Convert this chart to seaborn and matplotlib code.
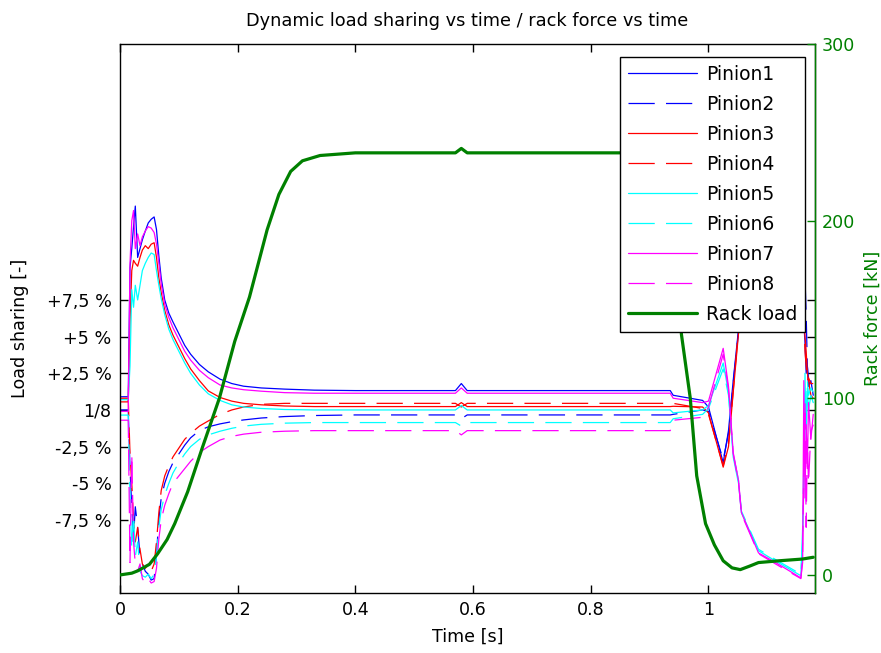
import matplotlib
matplotlib.use("Agg")
import matplotlib.pyplot as plt
import seaborn as sns
import pandas as pd

# ---------------- data ----------------
t_pin = [0.000, 0.014, 0.017, 0.020, 0.023, 0.026, 0.030, 0.034, 0.038, 0.043,
         0.048, 0.053, 0.058, 0.062, 0.066, 0.070, 0.076, 0.083, 0.090, 0.100,
         0.110, 0.120, 0.135, 0.150, 0.170, 0.190, 0.210, 0.240, 0.280, 0.330,
         0.400, 0.570, 0.580, 0.590,
         0.935, 0.940, 0.990, 1.000, 1.025, 1.034, 1.042, 1.051, 1.056, 1.085,
         1.114, 1.157, 1.160, 1.162, 1.164, 1.166, 1.168, 1.170, 1.174, 1.178]

pinion1 = [0.9, 0.9, 9.7, 11.0, 12.5, 13.9, 10.4, 11.0, 11.6, 12.2,
           12.75, 13.0, 13.16, 12.3, 10.5, 9.0, 7.5, 6.6, 6.0, 5.2,
           4.4, 3.8, 3.1, 2.6, 2.1, 1.8, 1.62, 1.5, 1.42, 1.35,
           1.32, 1.32, 1.8, 1.32,
           1.32, 1.0, 0.65, 0.2, -3.6, -1.4, 2.0, 5.5, 8.0, 12.0,
           13.0, 12.0, 10.0, 6.0, 4.6, 2.5, 3.0, 1.6, 2.0, 1.0]
pinion2 = [0.0, 0.0, -4.0, -6.6, -8.7, -6.6, -8.0, -10.0, -10.5, -11.0,
           -11.2, -11.6, -11.5, -9.8, -7.5, -6.0, -5.0, -4.2, -3.6, -3.0,
           -2.4, -1.9, -1.4, -1.15, -0.95, -0.8, -0.68, -0.55, -0.45, -0.38,
           -0.34, -0.34, -0.6, -0.34,
           -0.34, -0.3, 0.0, -0.1, -3.4, -1.6, 1.8, 5.3, 8.0, 12.0,
           13.0, 13.0, 12.5, 11.4, 9.0, 6.5, 3.0, 2.0, 1.5, 1.5]
pinion3 = [0.55, 0.55, 6.0, 9.5, 10.2, 10.0, 9.8, 10.4, 10.9, 11.2,
           11.0, 11.3, 11.4, 10.4, 9.0, 8.0, 6.8, 5.8, 5.1, 4.3,
           3.5, 2.8, 2.0, 1.3, 0.85, 0.6, 0.45, 0.35, 0.27, 0.23,
           0.23, 0.23, 0.5, 0.23,
           0.23, 0.25, 0.2, -0.2, -3.9, -2.5, 1.2, 5.2, 8.0, 12.0,
           13.0, 11.0, 9.0, 6.8, 5.0, 4.0, 2.5, 2.0, 1.0, 0.8]
pinion4 = [0.8, 0.8, -3.0, -5.0, -7.5, -9.0, -8.0, -9.5, -10.5, -10.8,
           -10.5, -11.0, -10.5, -9.0, -7.0, -5.5, -4.5, -3.8, -3.2, -2.6,
           -2.0, -1.6, -1.1, -0.75, -0.3, 0.0, 0.2, 0.38, 0.45, 0.45,
           0.45, 0.45, 0.2, 0.45,
           0.45, 0.45, 0.1, -0.3, -3.8, -2.3, 1.3, 5.5, 8.0, 12.5,
           13.0, 11.5, 9.5, 6.0, 4.0, 3.0, 2.0, 2.2, 1.8, 1.8]
pinion5 = [0.7, 0.7, 3.0, 8.2, 7.0, 8.5, 7.5, 8.5, 9.5, 10.0,
           10.4, 10.7, 10.6, 9.5, 8.5, 7.6, 6.5, 5.5, 4.8, 4.0,
           3.2, 2.5, 1.7, 1.1, 0.65, 0.35, 0.2, 0.1, 0.03, 0.0,
           0.0, 0.0, 0.3, 0.0,
           0.0, -0.2, 0.0, 0.3, 3.2, 1.2, -3.2, -5.0, -7.0, -9.6,
           -10.3, -11.3, -8.0, -5.5, 2.5, -2.0, 1.5, 0.0, 1.0, 0.5]
pinion6 = [-0.35, -0.35, -6.0, -9.5, -7.0, -10.0, -9.0, -11.0, -11.3, -11.4,
           -11.2, -11.5, -11.2, -10.0, -8.0, -6.8, -5.8, -5.0, -4.3, -3.6,
           -3.0, -2.5, -2.0, -1.7, -1.45, -1.25, -1.1, -0.98, -0.9, -0.86,
           -0.86, -0.86, -1.1, -0.86,
           -0.86, -0.6, -0.3, 0.1, 2.8, 1.0, -3.0, -4.8, -6.9, -9.5,
           -10.2, -11.2, -9.0, -3.0, 1.5, -1.0, 2.0, 1.0, 1.5, 1.2]
pinion7 = [-0.1, -0.1, 10.0, 12.9, 13.6, 11.0, 12.0, 11.2, 11.8, 12.2,
           12.5, 12.4, 12.1, 11.3, 10.0, 8.6, 7.2, 6.3, 5.6, 4.8,
           4.0, 3.4, 2.7, 2.2, 1.7, 1.5, 1.38, 1.28, 1.18, 1.14,
           1.14, 1.14, 1.5, 1.14,
           1.14, 0.8, 0.5, 0.6, 4.2, 1.6, -2.9, -4.8, -7.0, -9.75,
           -10.4, -11.45, -10.4, 2.0, -6.0, -1.0, -4.0, 0.5, -2.0, -0.3]
pinion8 = [-0.7, -0.7, -10.4, -3.0, -9.0, -10.5, -11.0, -10.5, -11.5, -11.8,
           -11.5, -11.8, -11.7, -10.8, -8.8, -7.5, -6.5, -5.7, -5.0, -4.5,
           -4.0, -3.5, -2.9, -2.5, -2.05, -1.8, -1.65, -1.52, -1.45, -1.41,
           -1.41, -1.41, -1.7, -1.41,
           -1.41, -0.7, -0.5, 0.2, 3.8, 1.4, -3.0, -4.9, -7.1, -9.8,
           -10.5, -11.5, -10.0, -4.0, 0.5, -8.0, -2.0, -5.0, -1.5, -1.0]

rack_t = [0, 0.02, 0.03, 0.05, 0.064, 0.08, 0.093, 0.115, 0.14, 0.169,
          0.195, 0.22, 0.25, 0.27, 0.29, 0.31, 0.34, 0.40, 0.57, 0.58,
          0.59, 0.937, 0.945, 0.954, 0.969, 0.98, 0.995, 1.01, 1.025, 1.04,
          1.054, 1.07, 1.085, 1.12, 1.16, 1.178]
rack_load = [0, 1, 2.3, 6, 12, 20, 29, 47, 72, 100,
             132, 157, 195, 215, 228, 234, 237, 238.5, 238.5, 241,
             238.5, 238.5, 200, 136, 100, 56, 29, 17, 8, 4,
             3, 5, 7, 8, 9, 10]

pinion_names = ["Pinion1", "Pinion2", "Pinion3", "Pinion4",
                "Pinion5", "Pinion6", "Pinion7", "Pinion8"]
pinion_values = [pinion1, pinion2, pinion3, pinion4,
                 pinion5, pinion6, pinion7, pinion8]
pinion_colors = ["#0000ff", "#0000ff", "#ff0000", "#ff0000",
                 "#00ffff", "#00ffff", "#ff00ff", "#ff00ff"]
pinion_dashed = [False, True, False, True, False, True, False, True]

share_ticks = [7.5, 5, 2.5, 0, -2.5, -5, -7.5]
share_labels = ["+7,5 %", "+5 %", "+2,5 %", "1/8", "-2,5 %", "-5 %", "-7,5 %"]
time_ticks = [0, 0.2, 0.4, 0.6, 0.8, 1]
time_labels = ["0", "0.2", "0.4", "0.6", "0.8", "1"]
force_ticks = [0, 100, 200, 300]

GREEN = "#008000"

# ---------------- style ----------------
sns.set_theme(style="ticks", rc={"axes.edgecolor": "black", "axes.linewidth": 1.0,
                                 "xtick.color": "black", "ytick.color": "black",
                                 "text.color": "black", "axes.labelcolor": "black"})
plt.rcParams["font.family"] = ["DejaVu Sans"]

fig = plt.figure(figsize=(8.81, 6.53), dpi=100)
W, H = 881, 653
ax = fig.add_axes([120 / W, 1 - 593 / H, 695 / W, 549 / H])
ax2 = ax.twinx()

handles = []
for name, vals, col, dashed in zip(pinion_names, pinion_values, pinion_colors, pinion_dashed):
    df = pd.DataFrame({"t": t_pin, "v": vals})
    ls = (0, (21, 9)) if dashed else "-"
    sns.lineplot(data=df, x="t", y="v", ax=ax, color=col, linewidth=0.9,
                 linestyle=ls, estimator=None, errorbar=None, sort=False, legend=False)
    handles.append(ax.lines[-1])

dfr = pd.DataFrame({"t": rack_t, "F": rack_load})
sns.lineplot(data=dfr, x="t", y="F", ax=ax2, color=GREEN, linewidth=2.3,
             estimator=None, errorbar=None, sort=False, legend=False)
handles.append(ax2.lines[-1])
labels = pinion_names + ["Rack load"]

# ---------------- axes ----------------
ax.set_xlim(0, 1.181)
ax.set_ylim(-12.48, 24.95)
ax2.set_ylim(-10.2, 300)

ax.set_xticks(time_ticks)
ax.set_xticklabels(time_labels)
ax.set_yticks(share_ticks)
ax.set_yticklabels(share_labels)
ax.tick_params(axis="both", direction="in", length=5.8, width=1.0, labelsize=12.6,
               top=True, right=True, labelright=False, pad=6,
               colors="black")
ax.set_xlabel("Time [s]", fontsize=12.6, labelpad=6, color="black")
ax.set_ylabel("Load sharing [-]", fontsize=12.6, color="black")
ax.yaxis.set_label_coords(-0.131, 0.4827)
ax.set_title("Dynamic load sharing vs time / rack force vs time", fontsize=12.8,
             pad=13, color="black")

ax2.set_yticks(force_ticks)
ax2.tick_params(axis="y", direction="in", length=5.8, width=1.0, labelsize=12.6,
                colors=GREEN, pad=5)
ax2.set_ylabel("Rack force [kN]", fontsize=12.6, color=GREEN, labelpad=6)
for s in ["left", "top", "bottom"]:
    ax2.spines[s].set_visible(False)
ax2.spines["right"].set_color(GREEN)
for s in ["left", "top", "bottom", "right"]:
    ax.spines[s].set_color("black")

leg = ax2.legend(handles, labels, loc="upper right",
                 bbox_to_anchor=((805 - 120) / 695, (593 - 57) / 549),
                 borderaxespad=0, frameon=True, fancybox=False, shadow=False,
                 framealpha=1, edgecolor="black", fontsize=13.5,
                 handlelength=3.67, handletextpad=0.5, labelspacing=0.59,
                 borderpad=0.4)
leg.get_frame().set_linewidth(1.0)
for txt in leg.get_texts():
    txt.set_color("black")

fig.savefig("out.png", dpi=100)
